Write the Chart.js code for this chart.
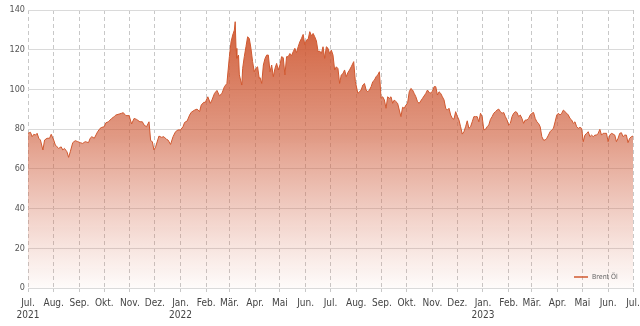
<!DOCTYPE html>
<html>
<head>
<meta charset="utf-8">
<script src="https://cdn.jsdelivr.net/npm/chart.js@4"></script>
<style>
  html, body { margin: 0; padding: 0; background: #fff; }
  #wrap { width: 640px; height: 326px; position: relative; }
</style>
</head>
<body>
<div id="wrap"><canvas id="brentChart"></canvas></div>
<script>
// days since 1 Jul 2021
const dayOffsets = [
  0, 3, 5, 7, 9, 11, 13, 15, 18, 20, 23, 26, 28, 31, 33, 35, 37, 40, 42, 44, 47, 49, 51, 54, 57, 60,
  63, 66, 69, 73, 75, 77, 80, 84, 87, 89, 92, 94, 97, 101, 104, 106, 110, 113, 115, 118, 122, 125, 128,
  131, 135, 138, 140, 143, 146, 148, 150, 152, 154, 158, 161, 164, 167, 169, 172, 175, 178, 181,
  184, 187, 189, 192, 195, 197, 201, 204, 207, 209, 212, 214, 217, 220, 222, 225, 228, 231, 234, 237,
  240, 243, 245, 247, 249, 250, 251, 252, 254, 255, 258, 259, 261, 263, 265, 267, 269, 271, 273, 275,
  277, 279, 280, 282, 284, 286, 288, 290, 292, 294, 296, 298, 300, 302, 304, 306, 308, 310, 312, 314,
  316, 318, 320, 322, 324, 326, 328, 330, 332, 334, 336, 338, 340, 342, 344, 346, 348, 350, 352, 354,
  356, 358, 360, 362,
  364, 366, 368, 370, 372, 374, 376, 378, 380, 382, 384, 386, 388, 390, 393, 395, 398, 400, 402, 404,
  406, 408, 410, 412, 414, 416, 418, 420, 422, 424, 426, 428, 430, 432, 434, 436, 438, 440, 442, 444,
  446, 448, 450, 452, 454, 456, 458, 460, 462, 464, 466, 468, 470,
  472, 476, 480, 482, 485, 488, 490, 492, 494, 496, 498, 500, 502, 504, 506, 508, 510, 512, 514, 516,
  518, 520, 522, 524, 526, 528, 530, 532, 534, 536, 538, 540, 542, 544, 546, 548, 550, 552, 554, 556,
  558, 560, 562, 564, 566, 568, 570, 572, 574, 576, 578, 580, 582, 584, 586, 588, 590, 592, 594, 596,
  598, 600, 602, 604, 606, 608, 610, 612, 614, 616, 618, 620, 622, 624, 626, 628, 630, 632, 634, 636,
  638, 640, 642, 644, 646, 648, 650, 652, 654, 656, 658, 660, 662, 664, 666, 668, 670, 672, 674, 676,
  678, 680, 682, 684, 686, 688, 690, 692, 694, 696, 698, 700, 702, 704, 706, 708, 710, 712, 714, 716,
  718, 720, 722, 724, 726, 728, 730
];

const brentPrices = [
  77.9, 78.4, 76.2, 77.4, 77.0, 77.9, 75.4, 74.5, 69.5, 74.5, 75.4, 75.4, 77.4, 74.5, 72.0, 71.1, 70.3, 71.1, 69.5, 70.3, 68.6, 65.8, 68.6, 73.2, 74.2, 73.7,
  73.2, 72.8, 73.7, 73.2, 75.4, 76.2, 75.4, 78.7, 80.4, 80.9, 81.2, 83.2, 83.7, 85.4, 86.3, 87.1, 87.6, 88.0, 88.3, 86.8, 86.8, 82.6, 85.4,
  84.9, 83.7, 83.7, 82.1, 81.2, 83.7, 74.2, 73.7, 69.5, 71.1, 76.5, 75.9, 76.2, 74.9, 74.5, 72.3, 76.2, 78.7, 79.6,
  79.6, 81.2, 83.4, 84.1, 87.1, 88.5, 89.6, 90.1, 88.8, 92.1, 93.5, 93.5, 96.3, 93.0, 94.7, 98.0, 99.5, 96.8, 98.0, 101.4,
  103.0, 116.5, 124.0, 127.4, 129.9, 134.1, 120.7, 115.7, 117.3, 107.3, 102.2, 110.6, 116.5, 121.5, 126.5, 125.7, 120.7, 114.0, 108.9, 110.6,
  111.4, 105.6, 106.0, 103.0, 112.3, 115.6, 117.3, 117.3, 108.9, 112.3, 106.4, 110.6, 113.1, 109.8, 112.3, 116.5, 116.0, 107.3, 116.5, 116.5,
  118.1, 117.0, 119.0, 120.7, 118.5, 121.5, 124.0, 125.7, 127.7, 122.4, 124.9, 125.2, 129.1, 127.0, 128.2, 126.5, 124.4, 119.0, 119.3, 118.1,
  121.5, 115.6, 121.5, 120.7,
  118.0, 119.8, 117.3, 109.8, 111.4, 110.5, 103.0, 107.3, 108.0, 109.8, 106.4, 108.5, 109.8, 111.4, 114.0, 103.9, 98.0, 98.8, 99.7, 102.2,
  103.0, 99.7, 98.8, 99.7, 101.4, 103.9, 104.7, 106.4, 107.3, 108.9, 95.5, 96.3, 94.7, 90.5, 96.3, 95.5, 96.3, 93.0, 94.7, 93.8,
  93.0, 89.6, 86.3, 91.0, 90.5, 92.1, 93.0, 98.8, 100.5, 99.7, 98.0, 96.3, 93.8,
  93.0, 95.5, 98.0, 99.7, 98.0, 99.0, 101.4, 101.4, 97.2, 98.8, 98.0, 96.3, 94.7, 90.5, 89.6, 90.5, 87.1, 85.4, 85.0, 88.8,
  86.5, 84.6, 81.2, 77.5, 78.7, 81.2, 84.2, 80.4, 81.2, 83.7, 86.3, 86.3, 86.3, 83.7, 88.0, 86.3, 79.6, 79.9, 81.2, 82.1,
  84.9, 86.3, 88.0, 88.8, 89.6, 90.1, 88.8, 88.0, 88.4, 86.3, 84.6, 82.1, 82.9, 86.3, 88.0, 88.8, 88.4, 86.3, 87.1, 85.4,
  82.9, 84.6, 84.6, 85.4, 87.1, 88.0, 88.4, 85.4, 83.7, 82.9, 81.2, 76.2, 74.5, 74.5, 75.4, 77.0, 78.7, 79.6, 80.4, 83.7,
  87.1, 88.0, 87.1, 88.0, 89.6, 88.8, 88.0, 87.1, 85.4, 84.6, 82.9, 83.7, 81.2, 80.4, 80.9, 80.4, 73.7, 77.0, 77.9, 78.7,
  76.2, 77.0, 76.2, 77.0, 77.0, 77.9, 79.9, 77.0, 77.9, 77.9, 77.9, 73.7, 77.0, 77.9, 77.5, 77.0, 73.7, 75.4, 77.9, 78.2,
  76.2, 77.0, 77.0, 73.2, 75.4, 76.2, 76.5
];

const monthLabels = ["Jul.", "Aug.", "Sep.", "Okt.", "Nov.", "Dez.", "Jan.", "Feb.", "Mär.", "Apr.", "Mai", "Jun."];
const seriesName = "Brent Öl";

// month starts as day offsets, Jul 2021 .. Jul 2023
const start = Date.UTC(2021, 6, 1);
const monthTicks = [];
for (let i = 0; i <= 24; i++) {
  const d = Date.UTC(2021, 6 + i, 1);
  monthTicks.push({ value: Math.round((d - start) / 86400000), month: (6 + i) % 12, year: 2021 + Math.floor((6 + i) / 12) });
}

function tickLabel(value, index) {
  const t = monthTicks[index];
  if (!t) return "";
  const m = monthLabels[(t.month + 6) % 12];
  if (index === 0 || t.month === 0) return [m, String(t.year)];
  return m;
}

const points = dayOffsets.map((d, i) => ({ x: d, y: brentPrices[i] }));
const fontFamily = "'Liberation Sans Narrow', 'DejaVu Sans Condensed', Roboto, sans-serif";

// legend drawn inside the plot, bottom right
const innerLegend = {
  id: "innerLegend",
  afterDraw(chart) {
    const { ctx, chartArea } = chart;
    const y = chartArea.bottom - 11;
    const x = chartArea.right - 59;
    ctx.save();
    ctx.strokeStyle = "#d0582f";
    ctx.lineWidth = 1.5;
    ctx.beginPath();
    ctx.moveTo(x, y);
    ctx.lineTo(x + 14, y);
    ctx.stroke();
    ctx.fillStyle = "#666";
    ctx.font = "7px " + fontFamily;
    ctx.textBaseline = "middle";
    ctx.fillText(seriesName, x + 18, y);
    ctx.restore();
  }
};

const ctx = document.getElementById("brentChart").getContext("2d");

new Chart(ctx, {
  type: "line",
  data: {
    datasets: [{
      label: seriesName,
      data: points,
      borderColor: "#d0582f",
      borderWidth: 1,
      pointRadius: 0,
      tension: 0,
      fill: "origin",
      backgroundColor: function (context) {
        const { ctx, chartArea } = context.chart;
        if (!chartArea) return "rgba(208,88,47,0.5)";
        const g = ctx.createLinearGradient(0, chartArea.top, 0, chartArea.bottom);
        g.addColorStop(0, "rgba(206,82,42,0.95)");
        g.addColorStop(0.45, "rgba(206,90,55,0.62)");
        g.addColorStop(0.72, "rgba(210,100,70,0.32)");
        g.addColorStop(1, "rgba(220,120,90,0.03)");
        return g;
      }
    }]
  },
  options: {
    responsive: true,
    maintainAspectRatio: false,
    animation: false,
    layout: { padding: { top: 10, right: 7, left: 0, bottom: 0 } },
    plugins: {
      legend: { display: false },
      tooltip: { enabled: false }
    },
    scales: {
      x: {
        type: "linear",
        min: 0,
        max: 730,
        afterBuildTicks(axis) {
          axis.ticks = monthTicks.map(t => ({ value: t.value }));
        },
        afterFit(axis) {
          axis.height = 38;
          axis.paddingRight = 0;
          axis.paddingLeft = 0;
        },
        ticks: {
          autoSkip: false,
          maxRotation: 0,
          padding: 5,
          color: "#444",
          font: { family: fontFamily, size: 10 },
          callback: tickLabel
        },
        grid: { color: "#c8c8c8", lineWidth: 1, tickLength: 4, drawOnChartArea: true },
        border: { display: false, dash: [4, 3] }
      },
      y: {
        min: 0,
        max: 140,
        afterFit(axis) { axis.width = 28; },
        ticks: {
          stepSize: 20,
          padding: 3,
          color: "#555",
          font: { family: fontFamily, size: 9 }
        },
        grid: { color: "#dadada", lineWidth: 1, drawTicks: false },
        border: { display: false }
      }
    }
  },
  plugins: [innerLegend]
});
</script>
</body>
</html>
